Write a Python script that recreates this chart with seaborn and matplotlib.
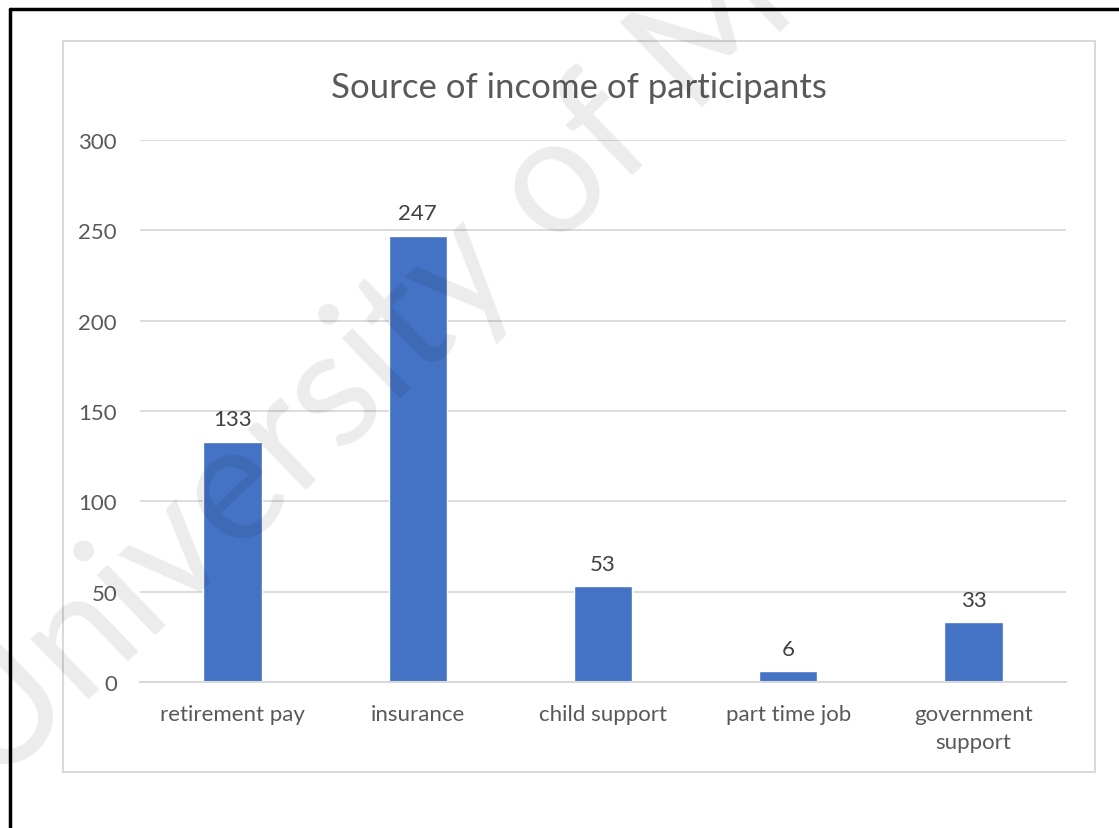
import matplotlib
matplotlib.use("Agg")
import matplotlib.pyplot as plt
from matplotlib.lines import Line2D
from matplotlib.patches import Rectangle
import seaborn as sns
import pandas as pd

categories = ["retirement pay", "insurance", "child support", "part time job", "government\nsupport"]
participants = [133, 247, 53, 6, 33]
y_ticks = [0, 50, 100, 150, 200, 250, 300]
title_text = "Source of income of participants"
watermark_text = "University of M"

sns.set_theme(style="white")
plt.rcParams["font.family"] = ["Lato", "DejaVu Sans"]

W, H = 1119, 829
fig = plt.figure(figsize=(W / 100, H / 100), dpi=100)
fig.patch.set_facecolor("white")

def fx(px):
    return px / W

def fy(py):
    return 1 - py / H

# chart frame
fig.add_artist(Rectangle((fx(63), fy(773)), fx(1095) - fx(63), fy(42) - fy(773),
                         transform=fig.transFigure, fill=False,
                         edgecolor="#d9d9d9", linewidth=1.5))
# page border lines
fig.add_artist(Line2D([fx(10), fx(1119)], [fy(10), fy(10)], transform=fig.transFigure,
                      color="black", linewidth=2.5))
fig.add_artist(Line2D([fx(10), fx(10)], [fy(10), fy(829)], transform=fig.transFigure,
                      color="black", linewidth=2.5))

ax = fig.add_axes([fx(140), fy(683), fx(1066) - fx(140), fy(141) - fy(683)])
df = pd.DataFrame({"source": categories, "count": participants})
sns.barplot(data=df, x="source", y="count", color="#4472C4", saturation=1,
            width=0.315, ax=ax)

ax.set_ylim(0, 300)
ax.set_yticks(y_ticks)
ax.yaxis.grid(True, color="#d9d9d9", linewidth=1.3)
ax.set_axisbelow(True)
for s in ["top", "right", "left"]:
    ax.spines[s].set_visible(False)
ax.spines["bottom"].set_color("#d9d9d9")
ax.spines["bottom"].set_linewidth(1.5)
ax.set_xlabel("")
ax.set_ylabel("")
ax.tick_params(axis="both", length=0, labelsize=16, colors="#595959")
ax.tick_params(axis="y", pad=16.5)
ax.tick_params(axis="x", pad=16)
for lbl in ax.get_xticklabels():
    lbl.set_linespacing(1.5)

for i, v in enumerate(participants):
    ax.annotate(f"{v}", (i, v), xytext=(0, 9), textcoords="offset points",
                ha="center", va="bottom", fontsize=16, color="#404040")

fig.text(fx(579), fy(88), title_text, ha="center", va="center",
         fontsize=25, color="#595959")

fig.text(fx(365), fy(368), watermark_text, ha="center", va="center",
         rotation=44, rotation_mode="anchor", fontsize=118, fontweight="normal",
         color="black", alpha=0.08)

fig.savefig("out.png", dpi=100)
